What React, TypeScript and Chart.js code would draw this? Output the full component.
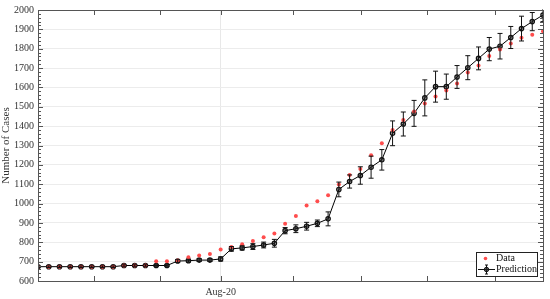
import { useEffect, useRef } from "react";
import { Chart, registerables } from "chart.js";

Chart.register(...registerables);

const dayIndex = [
  0, 1, 2, 3, 4, 5, 6, 7, 8, 9, 10, 11, 12, 13, 14, 15, 16, 17, 18, 19, 20, 21, 22, 23,
  24, 25, 26, 27, 28, 29, 30, 31, 32, 33, 34, 35, 36, 37, 38, 39, 40, 41, 42, 43, 44, 45, 46, 47,
];

const dataCases = [
  674, 674, 674, 674, 674, 674, 674, 674, 680, 680, 680, 702, 702, 706, 723, 732, 740, 763, 776, 790,
  807, 826, 846, 896, 936, 990, 1012, 1043, 1098, 1148, 1178, 1250, 1312, 1380, 1432, 1476, 1517, 1553,
  1584, 1620, 1677, 1713, 1762, 1796, 1827, 1856, 1872, 1890,
];

const predCases = [
  674, 674, 674, 674, 674, 674, 674, 674, 680, 680, 680, 680, 680, 703, 705, 708, 708, 714, 766, 771,
  778, 786, 795, 860, 870, 883, 898, 921, 1073, 1114, 1145, 1188, 1226, 1363, 1411, 1466, 1546, 1604,
  1604, 1654, 1702, 1750, 1798, 1813, 1858, 1904, 1940, 1974,
];

const predError = [
  4, 4, 4, 4, 4, 4, 4, 4, 4, 4, 4, 4, 4, 7, 7, 7, 7, 11, 12, 11,
  15, 15, 20, 16, 20, 20, 17, 36, 38, 34, 45, 57, 53, 64, 62, 67, 93, 80,
  65, 59, 62, 59, 60, 66, 57, 64, 47, 34,
];

const xTickPositions = [5.18, 11.33, 17, 23.77, 30.04, 36.25, 42.53];
const xTickLabels = ["", "", "Aug-20", "", "", "", ""];
const yTicks = [600, 700, 800, 900, 1000, 1100, 1200, 1300, 1400, 1500, 1600, 1700, 1800, 1900, 2000];

const SERIF = "'Liberation Serif', 'Times New Roman', serif";

const framePlugin = {
  id: "frame",
  afterDatasetsDraw(chart: any) {
    const { ctx, chartArea: a, scales } = chart;
    const xs = scales.x;
    const ys = scales.y;
    ctx.save();
    ctx.beginPath();
    ctx.rect(a.left, a.top - 1, a.right - a.left, a.bottom - a.top + 2);
    ctx.clip();
    ctx.strokeStyle = "#111";
    ctx.lineWidth = 1;
    predCases.forEach((v, i) => {
      const px = xs.getPixelForValue(dayIndex[i]);
      const t = ys.getPixelForValue(v + predError[i]);
      const b = ys.getPixelForValue(v - predError[i]);
      ctx.beginPath();
      ctx.moveTo(px, t);
      ctx.lineTo(px, b);
      ctx.moveTo(px - 2.5, t);
      ctx.lineTo(px + 2.5, t);
      ctx.moveTo(px - 2.5, b);
      ctx.lineTo(px + 2.5, b);
      ctx.stroke();
    });
    ctx.restore();
  },
  afterDraw(chart: any) {
    const { ctx, chartArea: a, scales } = chart;
    const xs = scales.x;
    const ys = scales.y;
    ctx.save();
    ctx.strokeStyle = "#555";
    ctx.lineWidth = 1;
    ctx.strokeRect(Math.round(a.left) + 0.5, Math.round(a.top) + 0.5, Math.round(a.right - a.left), Math.round(a.bottom - a.top));
    ctx.beginPath();
    for (let v = 600; v <= 2000; v += 20) {
      const py = Math.round(ys.getPixelForValue(v)) + 0.5;
      const len = v % 100 === 0 ? 5 : 3;
      ctx.moveTo(a.left, py);
      ctx.lineTo(a.left + len, py);
      ctx.moveTo(a.right, py);
      ctx.lineTo(a.right - len, py);
    }
    xTickPositions.forEach((v) => {
      const px = Math.round(xs.getPixelForValue(v)) + 0.5;
      ctx.moveTo(px, a.bottom);
      ctx.lineTo(px, a.bottom - 5);
      ctx.moveTo(px, a.top);
      ctx.lineTo(px, a.top + 5);
    });
    ctx.stroke();

    const lx = 476, ly = 252, lw = 61, lh = 24;
    ctx.fillStyle = "#fff";
    ctx.fillRect(lx, ly, lw, lh);
    ctx.strokeStyle = "#222";
    ctx.lineWidth = 1;
    ctx.strokeRect(lx + 0.5, ly + 0.5, lw, lh);
    ctx.fillStyle = "#ff4d4d";
    ctx.beginPath();
    ctx.arc(485.5, 258.5, 1.8, 0, Math.PI * 2);
    ctx.fill();
    ctx.strokeStyle = "#111";
    ctx.beginPath();
    ctx.moveTo(478, 269.5);
    ctx.lineTo(495, 269.5);
    ctx.moveTo(486.5, 265);
    ctx.lineTo(486.5, 274);
    ctx.moveTo(485, 265);
    ctx.lineTo(488, 265);
    ctx.moveTo(485, 274);
    ctx.lineTo(488, 274);
    ctx.stroke();
    ctx.beginPath();
    ctx.arc(486.5, 269.5, 2.2, 0, Math.PI * 2);
    ctx.fillStyle = "rgba(40,40,40,0.7)";
    ctx.fill();
    ctx.stroke();
    ctx.fillStyle = "#111";
    ctx.font = `10px ${SERIF}`;
    ctx.textBaseline = "middle";
    ctx.textAlign = "left";
    ctx.fillText("Data", 496, 258.5);
    ctx.fillText("Prediction", 496, 269.5);
    ctx.restore();
  },
};

export default function App() {
  const ref = useRef<HTMLCanvasElement>(null);
  useEffect(() => {
    document.body.style.margin = "0";
    const chart = new Chart(ref.current!, {
      type: "line",
      data: {
        datasets: [
          {
            label: "Data",
            data: dataCases.map((v, i) => ({ x: dayIndex[i], y: v })),
            showLine: false,
            pointRadius: 2,
            pointBackgroundColor: "#ff4d4d",
            pointBorderWidth: 0,
            borderColor: "#ff4d4d",
          },
          {
            label: "Prediction",
            data: predCases.map((v, i) => ({ x: dayIndex[i], y: v })),
            borderColor: "#000",
            borderWidth: 1,
            pointRadius: 2.2,
            pointBorderColor: "#111",
            pointBorderWidth: 1.2,
            pointBackgroundColor: "rgba(40,40,40,0.45)",
            tension: 0,
          },
        ],
      },
      options: {
        animation: false,
        responsive: false,
        maintainAspectRatio: false,
        layout: { padding: { top: 8, right: 7, left: 0, bottom: 0 } },
        plugins: { legend: { display: false }, tooltip: { enabled: false } },
        scales: {
          x: {
            type: "linear",
            min: 0,
            max: 47,
            afterBuildTicks: (s: any) => {
              s.ticks = xTickPositions.map((v) => ({ value: v }));
            },
            afterFit: (s: any) => {
              s.height = 18;
            },
            border: { display: false },
            grid: {
              drawTicks: false,
              color: (c: any) => (c.tick && c.tick.value === 17 ? "#e8e8e8" : "rgba(0,0,0,0)"),
            },
            ticks: {
              padding: 5,
              maxRotation: 0,
              autoSkip: false,
              color: "#333",
              font: { family: SERIF, size: 10 },
              callback: (v: any) => {
                const k = xTickPositions.indexOf(Number(v));
                return k >= 0 ? xTickLabels[k] : "";
              },
            },
          },
          y: {
            min: 600,
            max: 2000,
            afterBuildTicks: (s: any) => {
              s.ticks = yTicks.map((v) => ({ value: v }));
            },
            afterFit: (s: any) => {
              s.width = 38;
            },
            border: { display: false },
            grid: { drawTicks: false, color: "#ececec" },
            ticks: {
              padding: 4,
              color: "#333",
              font: { family: SERIF, size: 10 },
              callback: (v: any) => String(v),
            },
            title: {
              display: true,
              text: "Number of Cases",
              color: "#333",
              font: { family: SERIF, size: 11 },
              padding: { top: 0, bottom: 0 },
            },
          },
        },
      },
      plugins: [framePlugin],
    });
    return () => chart.destroy();
  }, []);
  return <canvas ref={ref} width={550} height={299} style={{ display: "block" }} />;
}
